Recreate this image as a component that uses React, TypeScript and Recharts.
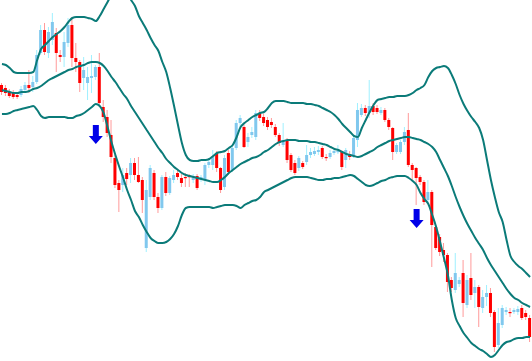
import { ComposedChart, Bar, Line, XAxis, YAxis } from "recharts";

// candle prices, one entry per session
const OPEN = [
  276, 273, 269, 268, 266, 266, 271, 276, 274, 279, 308, 331, 308, 321, 328, 306, 304, 318, 336, 303,
  299, 283, 278, 283, 284, 294, 254, 244, 226, 203, 178, 176, 188, 186, 198, 186, 181, 113, 164, 188,
  164, 153, 184, 168, 181, 188, 183, 184, 185, 181, 185, 181, 181, 196, 196, 208, 193, 174, 208, 191,
  213, 238, 234, 219, 226, 224, 248, 244, 241, 239, 234, 226, 216, 221, 206, 198, 193, 198, 199, 206,
  207, 209, 213, 204, 204, 208, 209, 209, 201, 207, 206, 221, 246, 253, 248, 255, 253, 248, 251, 241,
  233, 209, 209, 219, 231, 196, 193, 184, 179, 161, 169, 134, 124, 111, 106, 81, 71, 77, 88, 56,
  83, 68, 74, 53, 64, 68, 49, 16, 36, 49, 49, 49, 49, 53, 48, 43,
];
const CLOSE = [
  269, 268, 265, 264, 264, 272, 276, 273, 279, 306, 331, 309, 329, 339, 308, 304, 319, 336, 303, 299,
  278, 291, 284, 285, 294, 258, 244, 228, 204, 176, 171, 186, 182, 198, 186, 179, 161, 171, 193, 164,
  153, 184, 168, 183, 186, 184, 178, 183, 184, 185, 173, 184, 196, 199, 204, 193, 171, 203, 189, 213,
  238, 243, 214, 224, 229, 248, 243, 238, 234, 236, 226, 218, 221, 201, 191, 188, 203, 194, 206, 209,
  210, 211, 204, 203, 208, 210, 210, 194, 211, 204, 223, 251, 253, 248, 255, 249, 249, 251, 241, 234,
  209, 216, 219, 229, 196, 191, 183, 179, 159, 169, 136, 113, 109, 106, 79, 73, 88, 81, 58, 81,
  66, 74, 54, 64, 68, 48, 14, 38, 53, 51, 48, 51, 52, 43, 44, 24,
];
const HIGH = [
  278, 276, 272, 271, 269, 275, 279, 291, 285, 311, 336, 338, 334, 348, 333, 311, 329, 343, 344, 318,
  301, 304, 294, 306, 296, 308, 261, 251, 241, 206, 181, 193, 193, 203, 203, 204, 184, 181, 196, 191,
  168, 186, 189, 185, 191, 191, 187, 188, 187, 187, 187, 186, 198, 203, 211, 210, 194, 206, 211, 216,
  241, 246, 236, 228, 234, 251, 251, 247, 244, 243, 237, 228, 238, 223, 208, 201, 205, 200, 216, 213,
  214, 215, 215, 207, 211, 213, 216, 211, 213, 210, 226, 258, 257, 256, 281, 258, 256, 254, 253, 243,
  234, 218, 221, 234, 248, 198, 194, 186, 181, 181, 171, 136, 127, 118, 108, 84, 108, 84, 101, 86,
  108, 81, 76, 71, 76, 73, 51, 53, 56, 54, 53, 53, 55, 56, 51, 46,
];
const LOW = [
  266, 265, 263, 262, 262, 264, 269, 268, 269, 277, 306, 306, 303, 316, 289, 299, 294, 314, 294, 289,
  269, 271, 261, 268, 281, 254, 239, 224, 198, 173, 149, 169, 176, 178, 181, 178, 148, 109, 161, 161,
  148, 151, 165, 166, 178, 181, 174, 174, 174, 178, 171, 179, 176, 193, 191, 189, 168, 171, 186, 189,
  211, 234, 213, 214, 223, 221, 240, 235, 231, 233, 224, 215, 214, 198, 189, 186, 190, 192, 196, 203,
  205, 206, 202, 200, 202, 206, 207, 191, 193, 201, 203, 214, 244, 245, 243, 246, 247, 246, 239, 231,
  201, 207, 207, 216, 194, 181, 156, 176, 156, 158, 94, 111, 105, 99, 69, 69, 68, 74, 44, 53,
  61, 53, 34, 48, 55, 44, 9, 13, 33, 46, 44, 47, 46, 41, 41, 19,
];

// Bollinger bands (20, 2)
const UPPER = [
  297, 296, 293, 289, 288, 288, 288, 288, 289, 301, 312, 316, 320, 324, 327, 330, 334, 339, 343, 344,
  344, 344, 343, 342, 340, 345, 352, 359, 366, 370, 373, 373, 368, 361, 355, 345, 338, 331, 323, 316,
  310, 299, 289, 273, 255, 236, 218, 206, 201, 200, 200, 201, 201, 202, 205, 208, 209, 210, 213, 216,
  224, 234, 238, 241, 244, 246, 248, 249, 253, 258, 260, 260, 260, 259, 258, 258, 258, 258, 257, 257,
  256, 255, 253, 251, 249, 246, 242, 237, 233, 229, 225, 224, 233, 241, 249, 256, 261, 262, 263, 264,
  264, 265, 265, 265, 266, 268, 271, 273, 276, 284, 290, 293, 294, 295, 293, 286, 277, 266, 257, 250,
  244, 239, 233, 221, 201, 181, 164, 149, 139, 121, 105, 99, 95, 92, 88, 84,
];
const MIDDLE = [
  271, 270, 269, 268, 268, 269, 269, 270, 272, 273, 275, 278, 281, 283, 285, 287, 289, 291, 292, 294,
  295, 296, 298, 299, 299, 298, 295, 290, 284, 279, 273, 267, 262, 255, 249, 243, 237, 231, 225, 219,
  213, 208, 202, 198, 194, 191, 188, 186, 185, 184, 183, 182, 181, 180, 179, 179, 181, 184, 188, 191,
  194, 197, 199, 201, 203, 204, 206, 209, 211, 214, 217, 219, 220, 221, 221, 221, 220, 220, 220, 219,
  219, 218, 217, 216, 214, 212, 211, 209, 207, 206, 205, 204, 205, 207, 209, 211, 214, 216, 218, 220,
  221, 222, 223, 224, 224, 223, 222, 221, 219, 217, 214, 209, 201, 193, 185, 175, 164, 154, 145, 137,
  130, 123, 117, 111, 103, 96, 90, 84, 78, 72, 67, 63, 61, 58, 56, 54,
];
const LOWER = [
  247, 247, 248, 250, 251, 252, 253, 254, 255, 251, 245, 243, 244, 244, 244, 244, 244, 243, 243, 245,
  246, 248, 251, 254, 257, 255, 248, 234, 219, 206, 194, 183, 171, 161, 150, 144, 136, 129, 123, 120,
  118, 118, 119, 122, 127, 135, 146, 153, 154, 154, 154, 154, 154, 154, 153, 154, 155, 156, 156, 156,
  155, 153, 156, 158, 160, 161, 164, 169, 171, 173, 175, 177, 179, 181, 183, 184, 184, 184, 184, 183,
  182, 181, 181, 182, 182, 183, 183, 184, 185, 186, 185, 182, 179, 176, 175, 176, 178, 180, 181, 183,
  184, 185, 185, 185, 183, 180, 176, 168, 162, 157, 146, 134, 119, 103, 86, 61, 43, 35, 28, 23,
  18, 15, 12, 10, 7, 4, 6, 11, 16, 19, 20, 22, 23, 23, 24, 24,
];

// sell signals: session index and the level of the arrow
const SIGNAL_INDEX = [24, 106];
const SIGNAL_LEVEL = [236, 152];

const data = OPEN.map((open, i) => {
  const s = SIGNAL_INDEX.indexOf(i);
  return {
    i,
    open,
    close: CLOSE[i],
    high: HIGH[i],
    low: LOW[i],
    range: [LOW[i], HIGH[i]],
    upper: UPPER[i],
    middle: MIDDLE[i],
    lower: LOWER[i],
    signal: s >= 0 ? SIGNAL_LEVEL[s] : null,
  };
});

const BODY_UP = "#80c8ee";
const WICK_UP = "#9ff0ff";
const BODY_DOWN = "#ff0000";
const WICK_DOWN = "#ff9a9a";
const BAND = "#0b7b79";

const Candle = (props: any) => {
  const { x, y, width, height, payload } = props;
  if (x == null || y == null) return null;
  const { open, close, high, low } = payload;
  const top = Math.min(y, y + height);
  const h = Math.abs(height);
  const span = high - low || 1;
  const py = (v: number) => top + ((high - v) / span) * h;
  const up = close >= open;
  const cx = x + width / 2;
  const bTop = py(Math.max(open, close));
  const bBot = py(Math.min(open, close));
  return (
    <g>
      <line
        x1={cx}
        x2={cx}
        y1={top}
        y2={top + h}
        stroke={up ? WICK_UP : WICK_DOWN}
        strokeWidth={1}
      />
      <rect
        x={cx - 1.5}
        y={bTop}
        width={3}
        height={Math.max(1.2, bBot - bTop)}
        fill={up ? BODY_UP : BODY_DOWN}
      />
    </g>
  );
};

const Arrow = (props: any) => {
  const { cx, cy, index, value } = props;
  if (value == null || cy == null || isNaN(cy)) return <g key={`a-${index}`} />;
  return (
    <path
      key={`a-${index}`}
      d={`M${cx - 3},${cy} h6 v11 h4 l-7,8 l-7,-8 h4 z`}
      fill="#0000e8"
    />
  );
};

export default function App() {
  return (
    <div style={{ width: 532, height: 361, background: "#fff" }}>
      <style>{"body{margin:0}"}</style>
      <ComposedChart
        width={532}
        height={361}
        data={data}
        margin={{ top: 0, right: 0, bottom: 0, left: 0 }}
        barCategoryGap={0}>
        <XAxis dataKey="i" hide />
        <YAxis hide type="number" domain={[0, 361]} allowDataOverflow />
        <Bar
          dataKey="range"
          barSize={3}
          shape={Candle}
          isAnimationActive={false}
        />
        <Line
          type="monotone"
          dataKey="upper"
          stroke={BAND}
          strokeWidth={2}
          dot={false}
          activeDot={false}
          isAnimationActive={false}
        />
        <Line
          type="monotone"
          dataKey="middle"
          stroke={BAND}
          strokeWidth={2}
          dot={false}
          activeDot={false}
          isAnimationActive={false}
        />
        <Line
          type="monotone"
          dataKey="lower"
          stroke={BAND}
          strokeWidth={2}
          dot={false}
          activeDot={false}
          isAnimationActive={false}
        />
        <Line
          dataKey="signal"
          stroke="none"
          dot={Arrow}
          activeDot={false}
          isAnimationActive={false}
        />
      </ComposedChart>
    </div>
  );
}
